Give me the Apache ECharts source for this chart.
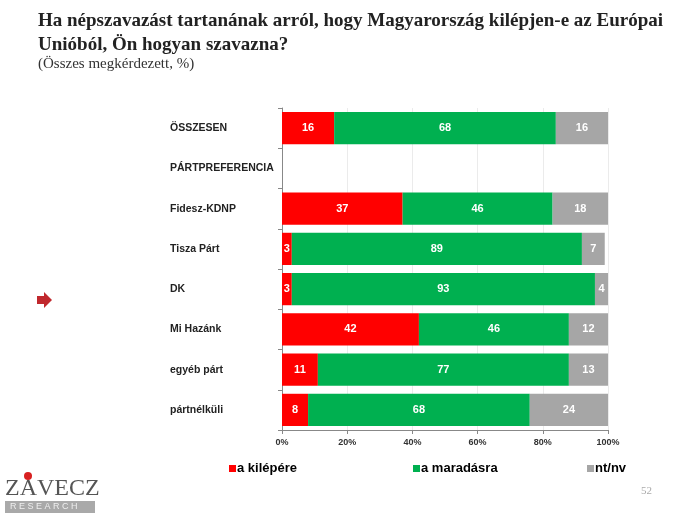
<!DOCTYPE html>
<html>
<head>
<meta charset="utf-8">
<script src="https://cdn.jsdelivr.net/npm/echarts@6/dist/echarts.min.js"></script>
<style>
  html, body { margin: 0; padding: 0; background: #fff; }
  #chart { width: 690px; height: 516px; }
</style>
</head>
<body>
<div id="chart"></div>
<script>
var categories = ['ÖSSZESEN', 'PÁRTPREFERENCIA', 'Fidesz-KDNP', 'Tisza Párt', 'DK', 'Mi Hazánk', 'egyéb párt', 'pártnélküli'];
var kilepes = [16, null, 37, 3, 3, 42, 11, 8];
var maradas = [68, null, 46, 89, 93, 46, 77, 68];
var ntnv = [16, null, 18, 7, 4, 12, 13, 24];
var seriesNames = ['a kilépére', 'a maradásra', 'nt/nv'];
var colors = ['#FF0000', '#00B050', '#A6A6A6'];

var chart = echarts.init(document.getElementById('chart'));

function barSeries(name, data, color) {
  return {
    name: name,
    type: 'bar',
    stack: 'total',
    data: data,
    barCategoryGap: '20%',
    itemStyle: { color: color },
    label: {
      show: true,
      color: '#fff',
      fontFamily: 'Arial, Liberation Sans',
      fontWeight: 'bold',
      fontSize: 11
    }
  };
}

function legendAt(left, name) {
  return {
    left: left,
    top: 457,
    data: [name],
    icon: 'rect',
    itemWidth: 7,
    itemHeight: 7,
    textStyle: {
      fontFamily: 'Arial, Liberation Sans', fontWeight: 'bold', fontSize: 13, color: '#000',
      padding: [0, 0, 0, -4]
    }
  };
}

chart.setOption({
  animation: false,
  title: [
    {
      text: 'Ha népszavazást tartanának arról, hogy Magyarország kilépjen-e az Európai\nUnióból, Ön hogyan szavazna?',
      left: 33, top: 4,
      textStyle: { fontFamily: 'Liberation Serif, Times New Roman', fontWeight: 'bold', fontSize: 19, lineHeight: 24, color: '#222' }
    },
    {
      text: '(Összes megkérdezett, %)',
      left: 33, top: 52,
      textStyle: { fontFamily: 'Liberation Serif, Times New Roman', fontWeight: 'normal', fontSize: 15, color: '#333' }
    }
  ],
  legend: [
    legendAt(224, seriesNames[0]),
    legendAt(408, seriesNames[1]),
    legendAt(582, seriesNames[2])
  ],
  grid: { left: 282, right: 82, top: 108, bottom: 86 },
  xAxis: {
    type: 'value',
    min: 0, max: 100, interval: 20,
    axisLabel: {
      formatter: '{value}%',
      fontFamily: 'Arial, Liberation Sans', fontWeight: 'bold', fontSize: 9, color: '#333'
    },
    axisLine: { show: true, lineStyle: { color: '#888' } },
    axisTick: { show: true, length: 4, lineStyle: { color: '#888' } },
    splitLine: { show: true, lineStyle: { color: '#ebebeb' } }
  },
  yAxis: {
    type: 'category',
    data: categories,
    inverse: true,
    axisLine: { show: true, lineStyle: { color: '#888' } },
    axisTick: { show: true, length: 4, lineStyle: { color: '#888' } },
    axisLabel: {
      align: 'left',
      margin: 112,
      fontFamily: 'Arial, Liberation Sans', fontWeight: 'bold', fontSize: 10.5, color: '#222'
    }
  },
  series: [
    barSeries(seriesNames[0], kilepes, colors[0]),
    barSeries(seriesNames[1], maradas, colors[1]),
    barSeries(seriesNames[2], ntnv, colors[2])
  ],
  graphic: [
    {
      type: 'polygon',
      shape: { points: [[37, 296], [44, 296], [44, 292], [52, 300], [44, 308], [44, 304], [37, 304]] },
      style: { fill: '#C0282D' }
    },
    {
      type: 'text', left: 5, top: 477,
      style: { text: 'ZÁVECZ', fontFamily: 'Liberation Serif, Times New Roman', fontSize: 24, fill: '#555' }
    },
    {
      type: 'rect', shape: { x: 5, y: 501, width: 90, height: 12 },
      style: { fill: '#a9a9a9' }
    },
    {
      type: 'text', left: 10, top: 502,
      style: { text: 'R E S E A R C H', fontFamily: 'Arial, Liberation Sans', fontSize: 9, fill: '#eee' }
    },
    {
      type: 'circle', shape: { cx: 28, cy: 476, r: 4 },
      style: { fill: '#d82020' }
    },
    {
      type: 'text', left: 641, top: 486,
      style: { text: '52', fontFamily: 'Liberation Serif, Times New Roman', fontSize: 11, fill: '#aaa' }
    }
  ]
});
</script>
</body>
</html>
